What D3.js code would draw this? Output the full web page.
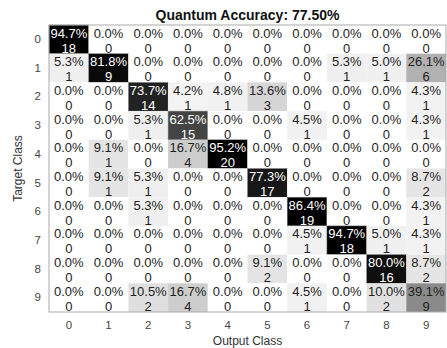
<!DOCTYPE html>
<html>
<head>
<meta charset="utf-8">
<script src="https://cdn.jsdelivr.net/npm/d3@7"></script>
<style>
    body { margin: 0; background: #fff; }
    text { font-family: "Liberation Sans", Arial, sans-serif; }
</style>
</head>
<body>
<svg id="chart" width="447" height="348"></svg>
<script>
    "use strict";
    // target class (rows) x output class (columns), raw counts
    var classes = ["0", "1", "2", "3", "4", "5", "6", "7", "8", "9"];
    var counts = [
        [18, 0, 0, 0, 0, 0, 0, 0, 0, 0],
        [1, 9, 0, 0, 0, 0, 0, 1, 1, 6],
        [0, 0, 14, 1, 1, 3, 0, 0, 0, 1],
        [0, 0, 1, 15, 0, 0, 1, 0, 0, 1],
        [0, 1, 0, 4, 20, 0, 0, 0, 0, 0],
        [0, 1, 1, 0, 0, 17, 0, 0, 0, 2],
        [0, 0, 1, 0, 0, 0, 19, 0, 0, 1],
        [0, 0, 0, 0, 0, 0, 1, 18, 1, 1],
        [0, 0, 0, 0, 0, 2, 0, 0, 16, 2],
        [0, 0, 2, 4, 0, 0, 1, 0, 2, 9]
    ];
    var titleText = "Quantum Accuracy: 77.50%";

    var margin = { left: 49, top: 25, right: 1, bottom: 36 };
    var width = 447 - margin.left - margin.right;
    var height = 348 - margin.top - margin.bottom;

    var svg = d3.select("#chart");
    var g = svg.append("g").attr("transform", "translate(" + margin.left + "," + margin.top + ")");

    var x = d3.scaleBand().domain(classes).range([0, width]);
    var y = d3.scaleBand().domain(classes).range([0, height]);
    var shade = d3.scaleLinear().domain([0, 85]).range(["#ffffff", "#000000"]).clamp(true);

    // column totals -> percentages per output class
    var colSums = classes.map(function (c, j) {
        return d3.sum(counts, function (row) { return row[j]; });
    });
    var cells = [];
    counts.forEach(function (row, i) {
        row.forEach(function (v, j) {
            cells.push({ t: classes[i], o: classes[j], n: v, p: colSums[j] ? 100 * v / colSums[j] : 0 });
        });
    });

    var cell = g.selectAll("g.cell").data(cells).enter().append("g")
        .attr("class", "cell")
        .attr("transform", function (d) { return "translate(" + x(d.o) + "," + y(d.t) + ")"; });
    cell.append("rect")
        .attr("width", x.bandwidth())
        .attr("height", y.bandwidth())
        .attr("fill", function (d) { return shade(d.p); })
        .attr("stroke", function (d) { return d.p > 50 ? "#888" : "none"; })
        .attr("stroke-width", 0.5);
    function cellText(yy, fn) {
        cell.append("text")
            .attr("x", x.bandwidth() / 2)
            .attr("y", yy)
            .attr("text-anchor", "middle")
            .attr("font-size", 13)
            .attr("fill", function (d) { return d.p > 50 ? "#fff" : "#222"; })
            .text(fn);
    }
    cellText(12.5, function (d) { return d.p.toFixed(1) + "%"; });
    cellText(27.5, function (d) { return d.n; });

    // frame
    g.append("rect")
        .attr("width", width).attr("height", height)
        .attr("fill", "none").attr("stroke", "#aaa").attr("stroke-width", 1);

    var xAxis = g.append("g")
        .attr("transform", "translate(0," + height + ")")
        .call(d3.axisBottom(x).tickSize(0).tickPadding(9));
    var yAxis = g.append("g")
        .call(d3.axisLeft(y).tickSize(0).tickPadding(8));
    [xAxis, yAxis].forEach(function (ax) {
        ax.select(".domain").remove();
        ax.selectAll("text")
            .attr("font-size", 11.5)
            .attr("fill", "#444")
            .style("font-family", "'Liberation Sans', Arial, sans-serif");
    });

    svg.append("text")
        .attr("x", margin.left + width / 2)
        .attr("y", 20)
        .attr("text-anchor", "middle")
        .attr("font-size", 14)
        .attr("font-weight", "bold")
        .attr("fill", "#111")
        .text(titleText);
    svg.append("text")
        .attr("x", margin.left + width / 2)
        .attr("y", 345)
        .attr("text-anchor", "middle")
        .attr("font-size", 12)
        .attr("fill", "#333")
        .text("Output Class");
    svg.append("text")
        .attr("transform", "translate(22," + (margin.top + height / 2) + ") rotate(-90)")
        .attr("text-anchor", "middle")
        .attr("font-size", 12)
        .attr("fill", "#333")
        .text("Target Class");
</script>
</body>
</html>
